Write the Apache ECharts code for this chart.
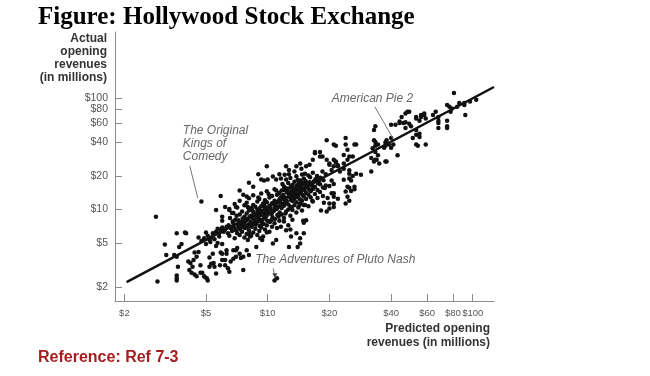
<!DOCTYPE html>
<html>
<head>
<meta charset="utf-8" />
<title>Hollywood Stock Exchange</title>
<script src="https://cdn.jsdelivr.net/npm/echarts@6/dist/echarts.min.js"></script>
<style>
  *{padding:0;margin:0;}
  #main{width:650px;height:376px;background:#fff;}
</style>
</head>
<body>
<div id="main"></div>
<script>
// [predicted, actual] opening revenue, $ millions
var lowerLeft = [
  [2.85,8.6],[2.9,2.25],[3.15,4.85],[3.2,3.9],[3.5,3.9],[3.6,6.1],[3.95,6.2],[3.8,4.9],[3.7,4.6],
  [3.6,3.75],[3.65,3.05],[3.6,2.55],[3.6,2.4],[3.6,2.3],[4.0,6.1],[4.1,3.4],[4.15,2.85],[4.25,2.7],
  [4.2,3.3],[4.3,3.05],[4.35,3.5],[4.4,2.6],[4.4,4.1],[4.5,3.75],[4.5,2.5],[4.6,4.15],[4.7,3.15],
  [4.7,2.7],[4.8,2.7],[4.9,2.5],[4.95,2.45],[5.05,2.4],[5.1,2.3],[5.2,3.05],[5.2,3.7],[5.3,3.25],
  [5.4,4.0],[5.45,3.3],[5.5,3.05],[5.6,4.7],[5.6,2.65],[5.8,5.7],[5.85,3.15],[5.9,4.1],[6.0,3.5],
  [6.0,4.0],[6.2,3.15],[6.2,3.5],[6.3,4.0],[6.4,2.95],[6.5,2.75],[6.6,3.4],[6.8,4.3],[6.8,3.6],
  [7.0,3.75],[7.0,4.3],[7.3,4.0],[7.4,3.65],[7.6,2.85],[7.6,3.75],[7.9,4.3],[8.1,3.9],[6.0,4.9],
  [6.3,4.3],[7.1,4.5],[4.75,5.2],[4.9,5.5],[5.0,4.9],[5.1,5.8],[5.25,5.1],[5.4,6.1],[5.5,5.4],
  [5.6,6.3],[5.7,5.0],[5.9,6.6],[6.0,6.9],[6.2,6.6],[6.3,7.0],[5.0,6.2],[4.6,5.6],[4.75,11.8],
  [5.9,13.2],[5.6,9.9],[6.0,8.6],[6.0,7.9],[6.2,10.5],[8.2,5.7],[8.8,4.6],[8.0,5.3],[8.1,6.1],
  [5.3,5.6],[5.8,6.1],[6.1,6.3],[6.4,6.1],[5.2,5.3],[5.7,6.7]
];

var midLow = [
  [10.8,2.3],[11.1,2.4],[10.6,4.95],[11.0,5.3],[13.0,5.7],[14.4,4.95],[14.0,4.6],[15.0,6.1],
  [15.0,7.6],[15.4,8.0],[14.9,7.9],[13.8,6.1],[14.4,5.5],[12.3,6.5],[12.7,4.6],[9.4,5.3],[9.2,5.5],
  [9.9,6.2],[12.0,7.8],[12.6,7.2],[13.2,8.1],[11.6,7.0],[12.9,6.6],[15.2,11.0],[16.5,12.0],
  [18.2,9.8],[19.0,15.6],[20,16.3],[21,14],[19.6,12.7],[18.8,11.5],[20,11.3],[19.4,9.6],[21,10.5],
  [22,12.5],[21,11.3],[24.5,13],[25,12],[20,10.2],[24.5,16],[24,14.5],[24,11.3],[20.5,14],[21,13],
  [25,15.7],[25.5,14.7],[26.5,15.2]
];

var core = [
  [6.5,5.8],[6.45,7.2],[6.55,8.4],[6.5,10.1],[6.7,6.4],[6.75,7.8],[6.7,9.3],
  [6.9,5.5],[6.85,6.9],[6.95,8.1],[6.9,11.2],[7.1,6.1],[7.15,7.3],[7.05,8.8],[7.1,10.4],
  [7.3,5.9],[7.35,6.6],[7.25,7.7],[7.3,9.0],[7.3,12.0],[7.5,6.3],[7.45,7.1],[7.55,8.3],[7.5,9.6],
  [7.7,5.6],[7.75,6.8],[7.65,7.5],[7.7,8.6],[7.7,10.9],[7.9,6.0],[7.95,7.2],[7.85,7.9],[7.9,9.2],[7.9,11.5],
  [8.1,6.5],[8.15,7.4],[8.05,8.2],[8.1,9.8],[8.1,12.6],[8.3,5.8],[8.35,7.0],[8.25,7.7],[8.3,8.8],[8.3,10.3],
  [8.5,6.2],[8.55,7.6],[8.45,8.4],[8.5,9.5],[8.5,11.0],[8.5,13.4],[8.7,6.7],[8.75,7.3],[8.65,8.0],[8.7,9.1],[8.7,10.6],
  [8.9,5.9],[8.95,7.8],[8.85,8.6],[8.9,9.9],[8.9,11.8],[9.1,6.4],[9.15,7.1],[9.05,8.3],[9.1,9.4],[9.1,10.2],[9.1,12.4],
  [9.3,6.9],[9.35,7.6],[9.25,8.9],[9.3,10.7],[9.3,13.9],[9.5,5.7],[9.55,7.4],[9.45,8.1],[9.5,9.7],[9.5,11.3],
  [9.7,6.6],[9.75,8.4],[9.65,9.2],[9.7,10.5],[9.7,12.1],[9.9,7.2],[9.95,7.9],[9.85,8.8],[9.9,10.0],[9.9,11.6],[9.9,14.6],
  [10.2,6.3],[10.25,7.7],[10.15,9.5],[10.2,10.8],[10.2,12.8],[10.5,7.0],[10.55,8.5],[10.45,9.1],[10.5,11.4],[10.5,13.2],
  [10.8,7.5],[10.85,8.2],[10.75,9.8],[10.8,10.4],[10.8,12.0],[10.8,15.2],[11.1,6.8],[11.15,8.9],[11.05,10.1],[11.1,11.7],[11.1,13.6],
  [11.4,7.9],[11.45,9.4],[11.35,10.7],[11.4,12.3],[11.4,14.1],
  [11.7,9.0],[11.7,10.3],[11.8,11.2],[11.6,12.9],[11.7,14.8],[11.8,17.0],[12.0,8.4],[12.0,10.8],[12.1,12.0],[11.9,13.5],[12.0,16.1],
  [12.3,9.6],[12.3,11.5],[12.2,12.6],[12.4,14.2],[12.3,15.5],[12.3,18.6],[12.6,10.0],[12.6,11.1],[12.7,13.0],[12.5,14.9],[12.6,17.3],
  [12.9,8.8],[12.9,10.6],[13.0,12.2],[12.8,13.7],[12.9,15.8],[12.9,19.2],[13.2,9.9],[13.2,11.9],[13.3,13.3],[13.1,14.5],[13.2,16.6],
  [13.5,10.9],[13.5,12.5],[13.6,14.0],[13.4,15.3],[13.5,17.8],[13.8,9.4],[13.8,11.6],[13.9,13.0],[13.7,14.7],[13.8,16.3],[13.8,19.9],
  [14.1,10.4],[14.1,12.8],[14.2,13.8],[14.0,15.1],[14.1,17.0],[14.4,11.3],[14.4,12.3],[14.5,14.3],[14.3,16.0],[14.4,18.2],
  [14.7,9.8],[14.7,12.0],[14.8,13.5],[14.6,15.6],[14.7,17.5],[14.7,20.6],[15.0,11.0],[15.0,13.1],[15.1,14.9],[14.9,16.8],[15.0,19.0],
  [15.4,12.4],[15.4,14.1],[15.5,15.9],[15.3,18.0],[15.8,10.7],[15.8,13.6],[15.9,15.2],[15.7,17.2],[15.8,20.2],
  [16.2,12.9],[16.2,14.6],[16.3,16.5],[16.1,19.5],[16.6,11.8],[16.6,15.3],[16.7,17.7],[16.6,21.4],
  [17.0,13.8],[17.0,16.0],[17.1,18.6],[17.5,12.7],[17.5,15.0],[17.6,17.2],[17.4,20.0],
  [18.0,14.4],[18.0,16.9],[18.1,19.3],[18.6,13.2],[18.6,15.8],[18.7,18.3],[18.5,22.0],[19.2,16.4],[19.2,20.8],
  [6.6,6.8],[6.8,7.5],[7.0,6.5],[7.2,8.0],[7.4,7.6],[7.6,7.0],[7.8,8.2],[8.0,7.0],[8.2,8.6],[8.4,7.3],
  [8.6,8.9],[8.8,7.6],[9.0,9.0],[9.2,8.0],[9.4,9.5],[9.6,8.6],[9.8,9.6],[10.0,9.0],[10.3,10.2],[10.6,9.6],
  [10.9,11.0],[11.2,10.4],[11.5,11.6],[11.8,10.8],[12.1,12.8],[12.4,11.9],[12.7,14.0],[13.0,13.0],[13.3,14.6],
  [13.6,13.4],[13.9,15.6],[14.2,14.6],[14.5,16.4],[14.8,15.0],[15.2,16.8],[15.6,16.0],[16.0,17.6],[16.4,16.9],
  [16.9,18.0],[17.3,19.0],[17.8,18.2],[7.2,6.9],[8.4,9.9],[9.6,11.0],[10.4,8.0],[11.3,8.6],[12.2,9.2],
  [13.1,10.3],[14.3,11.0],[8.0,10.5],[9.0,12.8],[10.1,13.8],[11.0,14.8],[12.0,15.0],[13.0,16.2],[14.0,18.4],[15.2,21.0]
];

var upper = [
  [23.5,18.5],[25,21],[25,19],[24.5,28],[23.5,26],[26,30],[27,38.5],[19.4,42],[21,38.5],[21.5,37.5],
  [24,38.5],[17,33],[18,33],[18.5,30],[19.4,28],[21,28],[21.5,26.5],[22,24.5],[20,25.3],[20.5,22.7],
  [16.6,28],[16,25.3],[15.4,24.5],[14.4,26],[13.8,24.5],[12.3,24.5],[12.7,22.7],[11.4,20.8],[11.6,19],
  [9.9,24.5],[9.0,20.8],[9.3,18.6],[9.6,18.2],[10,18.6],[10.6,19.8],[11,18.6],[8.1,17.4],[8.5,16],
  [7.3,14.8],[7.6,13.6],[7.9,13.1],[6.5,9.9],[6.8,9.3],[7.0,10.5],[12.1,20.5],[12.7,20.8],[13.5,22],
  [14.6,23.3],[17,32],[18,30],[20,26],[21,24.5],[24,44],[24.5,34.5],[26.5,38.5],[23.5,31],[25,30],
  [21.5,27],[22,25],[23.5,23.3],[22.5,22],[25,22.5],[26,20],[27,21],[28.5,20.5],[32,22],[25.5,18.2],
  [26.5,16],[20.5,18.2],[21,17],[33.5,56],[33,52],[33.5,40.5],[34.5,38.5],[32.5,35.5],[33.5,33],
  [34.5,30.8],[32,29],[33.5,28],[33,27],[35,26],[37.5,27],[38,27],[41,38.5],[38,42],[39,38.5],
  [37.5,37.5],[37.5,40],[40,36],[37,36],[40,44],[43,30.8],[33,42],[33.5,37.5],[34,28],
  [42,58],[44,60],[40,58],[46,60],[47,61],[49,59],[47,54],[50,56],[47,73],[49,76],[48,76],[45,68],
  [44,62],[53,68],[56,71],[58,73],[53,66],[56,68],[58,71],[55,63],[59,66],[64,71],[66,76],[68,60],
  [68,68],[68,63],[68,54],[75,54],[75,56],[75,63],[53,52],[55,48],[53,47],[55,45],[53,38.5],[54,37.5],
  [59,38.5],[51,44],[92,70.7],[81,112],[75,87],[79,81],[77,84],[78,76],[84,84],[86,91],[91,87],
  [91,91],[97,94],[104,97]
];

var fitLine = [[2.05, 2.22], [127, 126.6]];
var xTicks = [2, 5, 10, 20, 40, 60, 80, 100];
var yTicks = [2, 5, 10, 20, 40, 60, 80, 100];

// labelled films: tail = where the leader starts, head = where it ends (both in $M)
var films = [
  {label: 'The Original\nKings of\nComedy', tail: [4.17, 24.6], head: [4.56, 12.7], dx: -7, dy: -42, arrow: false},
  {label: 'American Pie 2', tail: [33.3, 84.2], head: [40.8, 43.7], dx: -43, dy: -15, arrow: false},
  {label: 'The Adventures of Pluto Nash', tail: [10.64, 2.95], head: [10.84, 2.45], dx: -18, dy: -15, arrow: true}
];

var chart = echarts.init(document.getElementById('main'));

var axisGrey = '#8c8c8c';
var money = function (v) { return '$' + Math.round(v); };
var yLabelStyle = {
  margin: 7, hideOverlap: false, fontFamily: 'Liberation Sans', fontSize: 10.5, color: '#555', formatter: money
};

// y labels $80 and $100 sit too close for one axis (ECharts hides one), so $100 goes on a twin axis
var yMain = yTicks.slice(0, -1);
var yTop = yTicks.slice(-1);

var option = {
  backgroundColor: '#fff',
  animation: false,
  title: [{
    text: 'Figure: Hollywood Stock Exchange',
    left: 38, top: 5, padding: 0,
    textStyle: {fontFamily: 'Liberation Serif', fontWeight: 'bold', fontSize: 25, color: '#000'}
  }, {
    text: 'Reference: Ref 7-3',
    left: 38, top: 350, padding: 0,
    textStyle: {fontFamily: 'Liberation Sans', fontWeight: 'bold', fontSize: 16, color: '#a51d1f'}
  }],
  grid: {left: 115, top: 32, right: 156, bottom: 75},
  xAxis: {
    type: 'log', logBase: 10, min: 1.8, max: 127,
    axisLine: {lineStyle: {color: axisGrey, width: 1}},
    axisTick: {inside: true, length: 7, customValues: xTicks, lineStyle: {color: axisGrey}},
    axisLabel: {
      customValues: xTicks, margin: 7, hideOverlap: false, showMinLabel: true, showMaxLabel: true,
      fontFamily: 'Liberation Sans', fontSize: 9.5, color: '#555', formatter: money
    },
    splitLine: {show: false},
    minorTick: {show: false}
  },
  yAxis: [{
    type: 'log', logBase: 10, min: 1.5, max: 396, position: 'left',
    name: 'Actual\nopening\nrevenues\n(in millions)',
    nameLocation: 'end', nameGap: 0,
    nameTextStyle: {
      align: 'right', verticalAlign: 'top', padding: [0, 8, 0, 0],
      fontFamily: 'Liberation Sans', fontWeight: 'bold', fontSize: 12, lineHeight: 13, color: '#333'
    },
    axisLine: {show: true, lineStyle: {color: axisGrey, width: 1}},
    axisTick: {show: true, inside: true, length: 7, customValues: yTicks, lineStyle: {color: axisGrey}},
    axisLabel: Object.assign({customValues: yMain}, yLabelStyle),
    splitLine: {show: false},
    minorTick: {show: false}
  }, {
    type: 'log', logBase: 10, min: 1.5, max: 396, position: 'left', offset: 0,
    axisLine: {show: false},
    axisTick: {show: false},
    axisLabel: Object.assign({customValues: yTop}, yLabelStyle),
    splitLine: {show: false},
    minorTick: {show: false}
  }],
  series: [{
    type: 'scatter',
    data: lowerLeft.concat(midLow, core, upper),
    symbol: 'circle',
    symbolSize: 4.5,
    itemStyle: {color: '#111', opacity: 1}
  }, {
    type: 'line',
    data: fitLine,
    symbol: 'none',
    lineStyle: {color: '#111', width: 2.5},
    z: 3
  }]
};

chart.setOption(option);

// x-axis title, right-aligned under the axis end
var end = chart.convertToPixel({gridIndex: 0}, [127, 1.5]);
var gfx = [{
  type: 'text', x: end[0] - 4, y: end[1] + 21, z: 10,
  style: {text: 'Predicted opening\nrevenues (in millions)', font: 'bold 12px "Liberation Sans"',
    fill: '#333', lineHeight: 14, align: 'right', verticalAlign: 'top'}
}];

// annotation leaders and names, placed through the axes
films.forEach(function (f) {
  var t = chart.convertToPixel({gridIndex: 0}, f.tail);
  var h = chart.convertToPixel({gridIndex: 0}, f.head);
  gfx.push({type: 'line', shape: {x1: t[0], y1: t[1], x2: h[0], y2: h[1]},
    style: {stroke: '#777', lineWidth: 1}, z: 10});
  if (f.arrow) {
    gfx.push({type: 'polygon', shape: {points: [[h[0] - 2.5, h[1] - 4], [h[0] + 2.5, h[1] - 4], [h[0], h[1] + 1]]},
      style: {fill: '#444'}, z: 10});
  }
  gfx.push({type: 'text', x: t[0] + f.dx, y: t[1] + f.dy, z: 10,
    style: {text: f.label, font: 'italic 12px "Liberation Sans"', fill: '#666',
      lineHeight: 13, align: 'left', verticalAlign: 'top'}});
});
chart.setOption({graphic: gfx});
</script>
</body>
</html>
